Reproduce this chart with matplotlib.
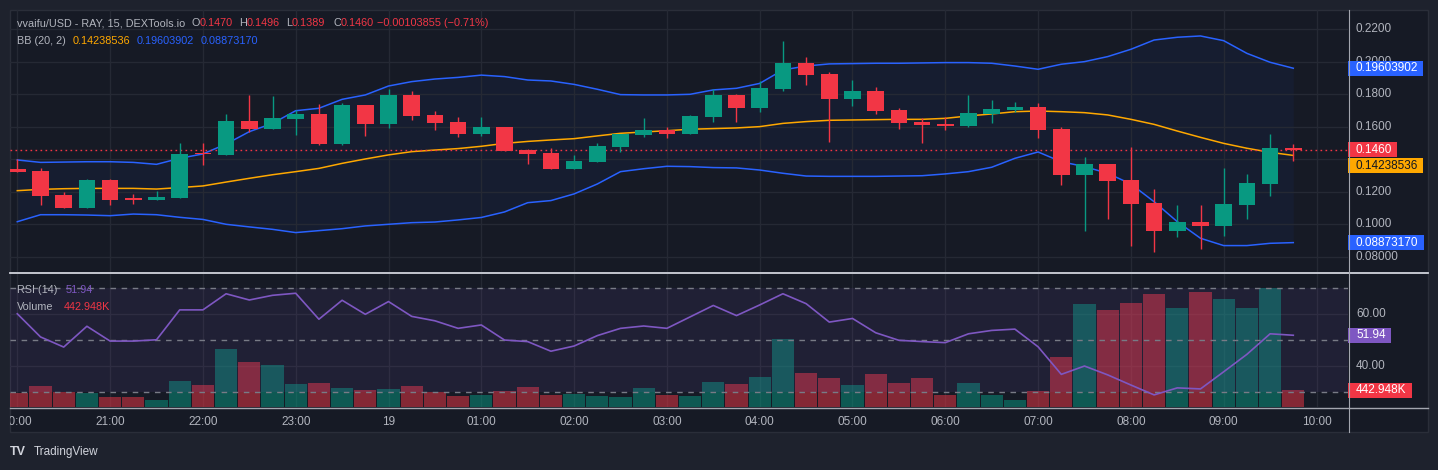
import matplotlib
matplotlib.use("Agg")
import matplotlib.pyplot as plt
from matplotlib.lines import Line2D
from matplotlib.patches import Rectangle
import numpy as np

plt.rcParams["font.family"] = ["Liberation Sans", "DejaVu Sans"]

W, H, DPI = 1438, 470, 100

# 15m candles, 20:00 -> 09:45
opens = [0.1343, 0.1328, 0.1180, 0.1103, 0.1273, 0.1156, 0.1152, 0.1164, 0.1434, 0.1427,
         0.1636, 0.1587, 0.1648, 0.1679, 0.1494, 0.1734, 0.1617, 0.1796, 0.1673, 0.1630,
         0.1556, 0.1599, 0.1457, 0.1439, 0.1340, 0.1383, 0.1476, 0.1550, 0.1580, 0.1556,
         0.1660, 0.1796, 0.1716, 0.1833, 0.1993, 0.1925, 0.1771, 0.1820, 0.1703, 0.1630,
         0.1617, 0.1605, 0.1679, 0.1703, 0.1722, 0.1587, 0.1303, 0.1371, 0.1273, 0.1131,
         0.0959, 0.1014, 0.0990, 0.1119, 0.1248, 0.1470]
highs = [0.1400, 0.1349, 0.1197, 0.1279, 0.1279, 0.1187, 0.1207, 0.1500, 0.1500, 0.1679,
         0.1796, 0.1790, 0.1703, 0.1740, 0.1747, 0.1734, 0.1833, 0.1820, 0.1697, 0.1660,
         0.1660, 0.1599, 0.1463, 0.1470, 0.1427, 0.1500, 0.1556, 0.1654, 0.1599, 0.1673,
         0.1833, 0.1802, 0.1882, 0.2128, 0.2030, 0.1937, 0.1888, 0.1845, 0.1716, 0.1654,
         0.1660, 0.1796, 0.1765, 0.1753, 0.1746, 0.1599, 0.1414, 0.1371, 0.1476, 0.1217,
         0.1119, 0.1119, 0.1347, 0.1310, 0.1556, 0.1496]
lows = [0.1324, 0.1119, 0.1103, 0.1103, 0.1119, 0.1125, 0.1152, 0.1164, 0.1365, 0.1427,
        0.1568, 0.1587, 0.1550, 0.1490, 0.1488, 0.1543, 0.1593, 0.1642, 0.1580, 0.1537,
        0.1543, 0.1453, 0.1371, 0.1340, 0.1340, 0.1383, 0.1445, 0.1537, 0.1531, 0.1556,
        0.1630, 0.1630, 0.1691, 0.1820, 0.1857, 0.1507, 0.1728, 0.1679, 0.1587, 0.1500,
        0.1580, 0.1599, 0.1623, 0.1691, 0.1531, 0.1242, 0.0959, 0.1033, 0.0867, 0.0830,
        0.0922, 0.0848, 0.0928, 0.1033, 0.1174, 0.1389]
closes = [0.1324, 0.1174, 0.1103, 0.1273, 0.1150, 0.1152, 0.1168, 0.1433, 0.1430, 0.1636,
          0.1587, 0.1654, 0.1679, 0.1494, 0.1734, 0.1617, 0.1796, 0.1667, 0.1624, 0.1556,
          0.1599, 0.1453, 0.1435, 0.1340, 0.1390, 0.1482, 0.1556, 0.1580, 0.1556, 0.1666,
          0.1796, 0.1716, 0.1839, 0.1993, 0.1919, 0.1771, 0.1820, 0.1697, 0.1623, 0.1611,
          0.1605, 0.1685, 0.1710, 0.1722, 0.1580, 0.1303, 0.1371, 0.1267, 0.1125, 0.0959,
          0.1014, 0.0990, 0.1125, 0.1254, 0.1470, 0.1460]
volume_k = [373, 547, 391, 373, 261, 261, 182, 678, 581, 1511,
            1173, 1095, 599, 625, 495, 443, 469, 547, 391, 287,
            313, 417, 521, 313, 339, 287, 261, 495, 313, 287,
            652, 599, 782, 1772, 886, 756, 573, 860, 625, 756,
            313, 625, 313, 182, 417, 1303, 2684, 2528, 2710, 2945,
            2580, 2997, 2814, 2580, 3101, 442.948]
rsi = [60.2, 51.3, 47.4, 55.4, 49.7, 49.7, 50.2, 61.7, 61.7, 67.9,
       65.5, 67.3, 68.1, 58.1, 65.4, 60.0, 64.9, 59.2, 57.5, 54.6,
       55.9, 50.1, 49.5, 45.8, 47.8, 51.8, 54.6, 55.5, 54.6, 59.0,
       63.4, 59.5, 63.6, 67.9, 64.1, 57.0, 58.4, 52.9, 50.0, 49.5,
       49.1, 52.5, 53.8, 54.3, 47.5, 36.9, 40.1, 36.7, 32.8, 29.0,
       31.7, 31.3, 37.9, 44.6, 52.5, 51.94]
bb_upper = [0.1396, 0.1381, 0.1383, 0.1385, 0.1385, 0.1381, 0.1369, 0.1406, 0.1433, 0.1494,
            0.1570, 0.1621, 0.1699, 0.1714, 0.1769, 0.1796, 0.1851, 0.1878, 0.1894, 0.1904,
            0.1918, 0.1909, 0.1888, 0.1882, 0.1861, 0.1831, 0.1798, 0.1796, 0.1796, 0.1800,
            0.1827, 0.1837, 0.1867, 0.1950, 0.1974, 0.1987, 0.1989, 0.1991, 0.1991, 0.1993,
            0.1995, 0.1995, 0.1991, 0.1974, 0.1954, 0.1985, 0.2001, 0.2032, 0.2077, 0.2134,
            0.2151, 0.2159, 0.2130, 0.2052, 0.1997, 0.19603902]
bb_mid = [0.1207, 0.1215, 0.1219, 0.1221, 0.1221, 0.1221, 0.1217, 0.1226, 0.1236, 0.1260,
          0.1283, 0.1305, 0.1324, 0.1344, 0.1375, 0.1402, 0.1427, 0.1447, 0.1457, 0.1466,
          0.1480, 0.1498, 0.1510, 0.1519, 0.1527, 0.1544, 0.1560, 0.1568, 0.1576, 0.1585,
          0.1589, 0.1593, 0.1601, 0.1621, 0.1632, 0.1640, 0.1642, 0.1644, 0.1646, 0.1646,
          0.1652, 0.1667, 0.1679, 0.1693, 0.1697, 0.1693, 0.1687, 0.1673, 0.1646, 0.1615,
          0.1574, 0.1535, 0.1498, 0.1468, 0.1443, 0.14238536]
bb_lower = [0.1016, 0.1059, 0.1059, 0.1057, 0.1053, 0.1063, 0.1059, 0.1043, 0.1030, 0.1000,
            0.0984, 0.0969, 0.0949, 0.0961, 0.0973, 0.0990, 0.1000, 0.1010, 0.1014, 0.1027,
            0.1042, 0.1076, 0.1133, 0.1146, 0.1187, 0.1248, 0.1324, 0.1342, 0.1357, 0.1355,
            0.1349, 0.1347, 0.1334, 0.1314, 0.1297, 0.1295, 0.1295, 0.1295, 0.1297, 0.1299,
            0.1310, 0.1324, 0.1351, 0.1406, 0.1445, 0.1385, 0.1355, 0.1314, 0.1248, 0.1139,
            0.1016, 0.0914, 0.0869, 0.0869, 0.0883, 0.08873170]

time_labels = ["20:00", "21:00", "22:00", "23:00", "19", "01:00", "02:00", "03:00",
               "04:00", "05:00", "06:00", "07:00", "08:00", "09:00", "10:00"]
time_label_bars = [0, 4, 8, 12, 16, 20, 24, 28, 32, 36, 40, 44, 48, 52, 56]
price_grid = [0.22, 0.20, 0.18, 0.16, 0.14, 0.12, 0.10, 0.08]
# 0.1400 sits fully under the last-price / basis labels, so it is not printed
price_ticks = [0.22, 0.20, 0.18, 0.16, 0.12, 0.10, 0.08]
price_tick_labels = ["0.2200", "0.2000", "0.1800", "0.1600", "0.1200", "0.1000", "0.08000"]
rsi_ticks = [60, 40]
rsi_tick_labels = ["60.00", "40.00"]
change_text = "\u22120.00103855 (\u22120.71%)"

BG = "#161a25"
OUTER = "#1e222d"
GRID = "#252934"
TEXT = "#b2b5be"
GREEN = "#089981"
RED = "#f23645"
BLUE = "#2962ff"
ORANGE = "#ffa800"
PURPLE = "#7e57c2"

LEFT, RIGHT = 10, 1348          # pane edges, px
X0, PX_PER_BAR = 17.3, 23.2     # first candle centre, spacing


def fx(px):
    return px / W


def fy(py):
    return 1 - py / H


fig = plt.figure(figsize=(W / DPI, H / DPI), dpi=DPI, facecolor=OUTER)
fig.add_artist(Rectangle((fx(10), fy(432)), fx(1428) - fx(10), fy(10) - fy(432),
                         transform=fig.transFigure, facecolor=BG, edgecolor="#2a2e39",
                         lw=1, zorder=-5))
renderer = fig.canvas.get_renderer()

xlim = ((LEFT - X0) / PX_PER_BAR, (RIGHT - X0) / PX_PER_BAR)
x = np.arange(len(opens))
o, h, l, c = (np.array(v) for v in (opens, highs, lows, closes))
up = c >= o
colors = np.where(up, GREEN, RED)

# ---- price pane ----
ax = fig.add_axes([fx(LEFT), fy(272), (RIGHT - LEFT) / W, (272 - 10) / H])
ax.patch.set_visible(False)
ax.set_xlim(*xlim)
ax.set_ylim(0.22 - (272 - 29.3) / 1625, 0.22 + (29.3 - 10) / 1625)
ax.set_yticks(price_grid)
ax.set_xticks(time_label_bars)
ax.grid(True, color=GRID, lw=1)
ax.tick_params(length=0, labelleft=False, labelbottom=False)
for s in ax.spines.values():
    s.set_visible(False)

ax.fill_between(x, bb_lower, bb_upper, color=BLUE, alpha=0.05, lw=0, zorder=1)
ax.plot(x, bb_upper, color=BLUE, lw=1.1, zorder=2)
ax.plot(x, bb_lower, color=BLUE, lw=1.1, zorder=2)
ax.plot(x, bb_mid, color=ORANGE, lw=1.1, zorder=2)
ax.axhline(closes[-1], color=RED, lw=1, ls=(0, (1.2, 2.4)), zorder=2.5)
ax.vlines(x, l, h, colors=colors, lw=1.0, zorder=3)
ax.bar(x, np.maximum(np.abs(c - o), 0.0008), bottom=np.minimum(o, c), width=0.72,
       color=colors, lw=0, zorder=4)

# ---- RSI + volume pane ----
ax_low = fig.add_axes([fx(LEFT), fy(407), (RIGHT - LEFT) / W, (407 - 274) / H])
ax_low.set_xlim(*xlim)
ax_low.set_ylim(50 - (407 - 340.3) / 2.6, 50 + (340.3 - 274) / 2.6)
ax_vol = ax_low.twinx()
ax_vol.set_zorder(ax_low.get_zorder() - 1)
ax_low.patch.set_visible(False)
ax_vol.patch.set_visible(False)
ax_vol.set_ylim(0, volume_k[-1] * (407 - 274) / 17)
# grid sits behind the volume columns
for b in time_label_bars:
    ax_vol.axvline(b, color=GRID, lw=1, zorder=0)
for lev in rsi_ticks:
    ax_vol.plot(xlim, [lev, lev], color=GRID, lw=1, zorder=0, transform=ax_low.transData)
ax_vol.bar(x, volume_k, width=0.95, color=colors, alpha=0.5, lw=0, zorder=1)
ax_vol.set_yticks([])
ax_vol.tick_params(length=0, labelbottom=False)

ax_low.set_xticks([])
ax_low.set_yticks([])
ax_low.axhspan(30, 70, color=PURPLE, alpha=0.1, lw=0, zorder=1)
for lev in (70, 50, 30):
    ax_low.axhline(lev, color="#787b86", lw=1, ls=(0, (4, 4)), zorder=3)
ax_low.plot(x, rsi, color=PURPLE, lw=1.2, zorder=4)
for a in (ax_low, ax_vol):
    for s in a.spines.values():
        s.set_visible(False)

# ---- time axis ----
ax_time = fig.add_axes([fx(LEFT), fy(432), (1428 - LEFT) / W, 25 / H])
ax_time.set_xlim(xlim[0], xlim[0] + (1428 - LEFT) / PX_PER_BAR)
ax_time.set_ylim(0, 1)
ax_time.axis("off")
for b, lab in zip(time_label_bars, time_labels):
    ax_time.text(b, 0.4, lab, ha="center", va="center", color=TEXT, fontsize=8.5,
                 clip_on=True)

# separators
for xs, ys, col, lw in [((10, 1428), (273, 273), "#d1d4dc", 1.3),
                        ((10, 1428), (407.5, 407.5), "#a3a6af", 1.0),
                        ((1348.5, 1348.5), (10, 432), "#a3a6af", 0.8)]:
    fig.add_artist(Line2D([fx(v) for v in xs], [fy(v) for v in ys],
                          transform=fig.transFigure, color=col, lw=lw, zorder=6))


# ---- right axis labels ----
def axis_label(axis, value, text, fc=None, tc=TEXT, min_top=None):
    yc = H - axis.transData.transform((0, value))[1]
    if min_top is not None:
        yc = max(yc, min_top + 7.5)
    t = fig.text(fx(1356), fy(yc), text, color=tc, fontsize=8.5, va="center",
                 ha="left", zorder=5 if fc else 3)
    if fc:
        w = t.get_window_extent(renderer).width
        fig.add_artist(Rectangle((fx(1348), fy(yc + 7.5)), (w + 13) / W, 15 / H,
                                 transform=fig.transFigure, fc=fc, ec="none", zorder=4))
    return yc + 7.5


for v, lab in zip(price_ticks, price_tick_labels):
    axis_label(ax, v, lab)
for v, lab in zip(rsi_ticks, rsi_tick_labels):
    axis_label(ax_low, v, lab)
axis_label(ax, bb_upper[-1], f"{bb_upper[-1]:.8f}", fc=BLUE, tc="white")
bottom = axis_label(ax, closes[-1], f"{closes[-1]:.4f}", fc=RED, tc="white")
axis_label(ax, bb_mid[-1], f"{bb_mid[-1]:.8f}", fc=ORANGE, tc="#131722", min_top=bottom + 1)
axis_label(ax, bb_lower[-1], f"{bb_lower[-1]:.8f}", fc=BLUE, tc="white")
axis_label(ax_low, rsi[-1], f"{rsi[-1]:.2f}", fc=PURPLE, tc="white")
axis_label(ax_vol, volume_k[-1], f"{volume_k[-1]:.3f}K", fc=RED, tc="white")


# ---- legends ----
def runs(x_px, y_px, parts, size=7.8):
    for s, col in parts:
        t = fig.text(fx(x_px), fy(y_px), s, color=col, fontsize=size, va="center", ha="left")
        x_px += t.get_window_extent(renderer).width


runs(17, 23, [("vvaifu/USD - RAY, 15, DEXTools.io", TEXT)])
runs(191, 23, [("O", TEXT), (f"{opens[-1]:.4f}", RED)])
runs(239, 23, [("H", TEXT), (f"{highs[-1]:.4f}", RED)])
runs(286, 23, [("L", TEXT), (f"{lows[-1]:.4f}", RED)])
runs(333, 23, [("C", TEXT), (f"{closes[-1]:.4f}", RED)])
runs(377, 23, [(change_text, RED)])
runs(17, 41, [("BB (20, 2)", TEXT)])
runs(73, 41, [(f"{bb_mid[-1]:.8f}", ORANGE)])
runs(137, 41, [(f"{bb_upper[-1]:.8f}", BLUE)])
runs(201, 41, [(f"{bb_lower[-1]:.8f}", BLUE)])
runs(17, 290, [("RSI (14)", TEXT)])
runs(66, 290, [(f"{rsi[-1]:.2f}", PURPLE)])
runs(17, 307, [("Volume", TEXT)])
runs(64, 307, [(f"{volume_k[-1]:.3f}K", RED)])

fig.text(fx(10), fy(452), "TV", color="#d1d4dc", fontsize=9, fontweight="bold",
         va="center", ha="left")
fig.text(fx(34), fy(452), "TradingView", color="#d1d4dc", fontsize=8.5,
         va="center", ha="left")

fig.savefig("out.png", dpi=DPI, facecolor=OUTER)
